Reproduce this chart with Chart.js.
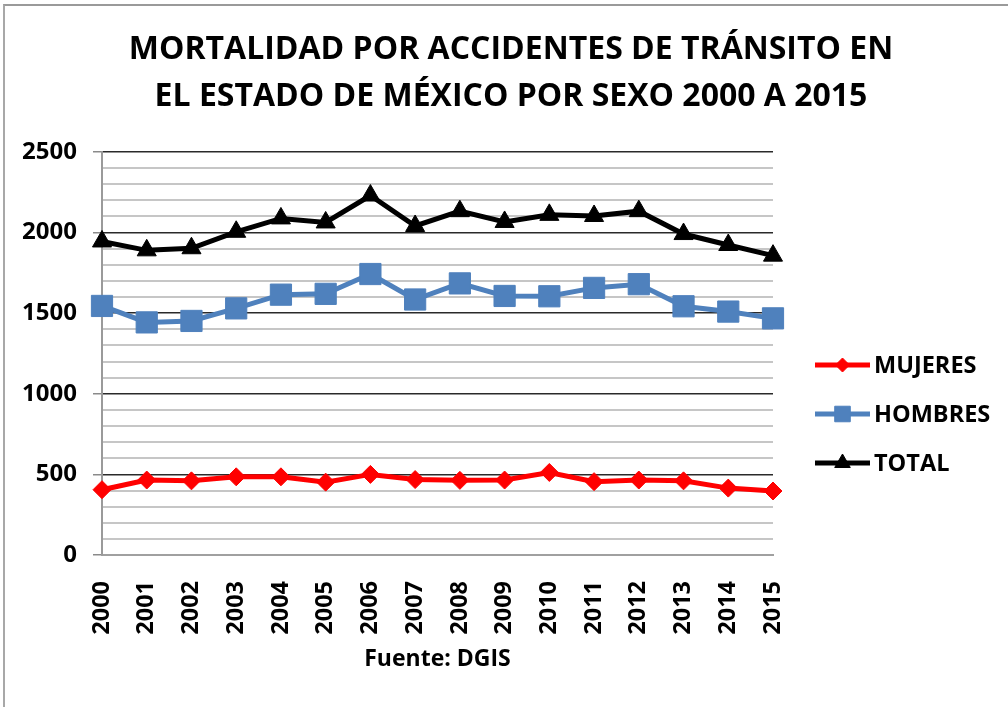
<!DOCTYPE html>
<html>
<head>
<meta charset="utf-8">
<script src="https://cdn.jsdelivr.net/npm/chart.js@4.4.0/dist/chart.umd.min.js"></script>
<style>
  html, body { margin: 0; padding: 0; background: #fff; }
  #wrap { position: absolute; left: 0; top: 0; width: 1008px; height: 707px; }
  #frame { position: absolute; left: 3px; top: 4px; width: 1010px; height: 710px;
           border-top: 2px solid #9a9a9a; border-left: 2px solid #a8a8a8; pointer-events: none; }
</style>
</head>
<body>
<div id="wrap">
  <canvas id="c" width="1008" height="707"></canvas>
  <div id="frame"></div>
</div>
<script>
const years = ['2000','2001','2002','2003','2004','2005','2006','2007','2008','2009','2010','2011','2012','2013','2014','2015'];
const mujeres = [405, 465, 460, 485, 485, 452, 500, 468, 463, 465, 512, 455, 465, 460, 415, 397];
const hombres = [1545, 1443, 1452, 1530, 1615, 1620, 1743, 1585, 1685, 1607, 1605, 1657, 1680, 1543, 1510, 1468];
const total = [1945, 1890, 1903, 2005, 2088, 2063, 2230, 2041, 2133, 2066, 2110, 2103, 2133, 1991, 1923, 1857];
const seriesNames = ['MUJERES', 'HOMBRES', 'TOTAL'];
const titleLines = ['MORTALIDAD POR ACCIDENTES DE TRÁNSITO EN', 'EL ESTADO DE MÉXICO POR SEXO 2000 A 2015'];
const sourceLabel = 'Fuente: DGIS';

const FONT = '"Open Sans", "DejaVu Sans", sans-serif';

const titlePlugin = {
  id: 'centeredTitle',
  afterDraw(chart) {
    const ctx = chart.ctx;
    ctx.save();
    ctx.fillStyle = '#000';
    ctx.font = 'bold 32px ' + FONT;
    ctx.textAlign = 'center';
    ctx.textBaseline = 'middle';
    const ys = [50, 97];
    titleLines.forEach((t, i) => ctx.fillText(t, 511, ys[i]));
    ctx.restore();
  }
};

const legendPlugin = {
  id: 'sideLegend',
  afterDraw(chart) {
    const ctx = chart.ctx;
    const ys = [365, 414, 463];
    const x0 = 815, x1 = 870;
    chart.data.datasets.forEach((ds, i) => {
      const y = ys[i];
      ctx.save();
      ctx.strokeStyle = ds.borderColor;
      ctx.lineWidth = 5;
      ctx.beginPath();
      ctx.moveTo(x0, y);
      ctx.lineTo(x1, y);
      ctx.stroke();
      ctx.fillStyle = ds.pointBackgroundColor;
      ctx.strokeStyle = ds.pointBorderColor;
      ctx.lineWidth = 1;
      Chart.helpers.drawPoint(ctx, { pointStyle: ds.pointStyle, radius: ds.legendRadius, rotation: 0, borderWidth: 1 }, (x0 + x1) / 2, y);
      ctx.fillStyle = '#000';
      ctx.font = 'bold 23.5px ' + FONT;
      ctx.textBaseline = 'middle';
      ctx.textAlign = 'left';
      ctx.fillText(ds.label, 874, y + 1);
      ctx.restore();
    });
  }
};

new Chart(document.getElementById('c'), {
  type: 'line',
  data: {
    labels: years,
    datasets: [
      { label: seriesNames[0], data: mujeres, borderColor: '#ff0000', backgroundColor: '#ff0000',
        pointBackgroundColor: '#ff0000', pointBorderColor: '#ff0000', pointStyle: 'rectRot',
        pointRadius: 9, legendRadius: 7, borderWidth: 5, pointBorderWidth: 1, tension: 0 },
      { label: seriesNames[1], data: hombres, borderColor: '#4f81bd', backgroundColor: '#4f81bd',
        pointBackgroundColor: '#4f81bd', pointBorderColor: '#4f81bd', pointStyle: 'rect',
        pointRadius: 15, legendRadius: 11, borderWidth: 5, pointBorderWidth: 1, tension: 0 },
      { label: seriesNames[2], data: total, borderColor: '#000000', backgroundColor: '#000000',
        pointBackgroundColor: '#000000', pointBorderColor: '#000000', pointStyle: 'triangle',
        pointRadius: 11, legendRadius: 9, borderWidth: 5, pointBorderWidth: 1, tension: 0 }
    ]
  },
  options: {
    responsive: false,
    animation: false,
    events: [],
    layout: { padding: { left: 0, right: 235, top: 152, bottom: 0 } },
    plugins: {
      legend: { display: false },
      tooltip: { enabled: false },
      title: { display: false }
    },
    scales: {
      x: {
        offset: false,
        grid: { display: false },
        border: { display: true, color: '#a0a0a0', width: 2 },
        ticks: {
          autoSkip: false, minRotation: 90, maxRotation: 90, padding: 18,
          color: '#000', font: { family: FONT, size: 23.5, weight: 'bold' }
        },
        title: {
          display: true, text: sourceLabel, color: '#000',
          font: { family: FONT, size: 23, weight: 'bold', lineHeight: 1.2 },
          padding: { top: 0, bottom: 34 }
        },
        afterFit(scale) { scale.height = 152; }
      },
      y: {
        min: 0, max: 2500,
        grid: {
          drawTicks: true, tickLength: 9,
          color: (c) => c.tick.value === 0 ? '#a0a0a0' : (c.tick.value % 500 === 0 ? '#2a2a2a' : '#c6c6c6'),
          tickColor: (c) => c.tick.value % 500 === 0 ? '#8a8a8a' : 'rgba(0,0,0,0)',
          lineWidth: (c) => c.tick.value % 500 === 0 ? 1.5 : 2
        },
        border: { display: true, color: '#9a9a9a', width: 2 },
        ticks: {
          stepSize: 100, autoSkip: false, padding: 16, color: '#000',
          font: { family: FONT, size: 24, weight: 'bold' },
          callback: (v) => v % 500 === 0 ? String(v) : ''
        },
        afterFit(scale) { scale.width = 102; }
      }
    }
  },
  plugins: [legendPlugin, titlePlugin]
});
</script>
</body>
</html>
